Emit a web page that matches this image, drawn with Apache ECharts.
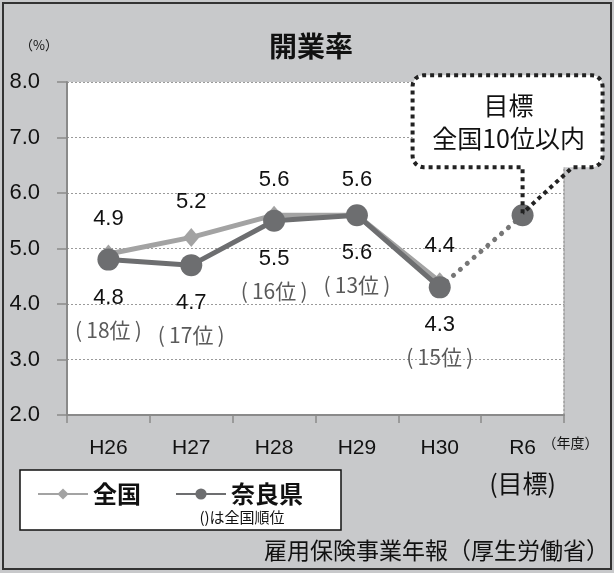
<!DOCTYPE html>
<html><head><meta charset="utf-8">
<script src="https://cdn.jsdelivr.net/npm/echarts@6/dist/echarts.min.js"></script>
<style>html,body{margin:0;padding:0;background:#c8c9cb}#c{width:614px;height:573px}</style>
</head><body><div id="c"></div>
<script>
var categories = ['H26', 'H27', 'H28', 'H29', 'H30', 'R6'];
var targetNote = '(目標)';
var nationalValues = [4.9, 5.2, 5.6, 5.6, 4.4, null];
var naraValues = [4.8, 4.7, 5.5, 5.6, 4.3, null];
var naraRanks = [18, 17, 16, 13, 15];
var targetValues = [null, null, null, null, 4.3, 5.6];
var yTicks = [2, 3, 4, 5, 6, 7, 8];

var NUM = "'Liberation Sans', Arial, sans-serif";
var JP = "'Noto Sans CJK JP', sans-serif";

var chart = echarts.init(document.getElementById('c'));
chart.setOption({
  animation: false,
  backgroundColor: '#c8c9cb',
  grid: { left: 67, right: 50, top: 82, bottom: 158, show: true, backgroundColor: '#ffffff', borderWidth: 0 },
  legend: {
    data: ['全国', '奈良県'],
    left: 20, top: 470,
    backgroundColor: '#ffffff', borderColor: '#111', borderWidth: 1.5,
    padding: [12, 38, 24, 17],
    itemGap: 34, itemWidth: 50, itemHeight: 14,
    textStyle: { fontFamily: JP, fontSize: 24, fontWeight: 'bold', color: '#111' }
  },
  xAxis: {
    type: 'category', data: categories, boundaryGap: true,
    axisLine: { lineStyle: { color: '#8a8a8a', width: 2 } },
    axisTick: { show: true, length: 8, alignWithLabel: false, lineStyle: { color: '#8a8a8a', width: 1.5 } },
    axisLabel: {
      margin: 16, interval: 0,
      formatter: function (v) { return v === 'R6' ? '{a|' + v + '}\n{b|' + targetNote + '}' : '{a|' + v + '}'; },
      rich: {
        a: { fontFamily: NUM, fontSize: 21, color: '#111', lineHeight: 35 },
        b: { fontFamily: JP, fontSize: 25, color: '#111', lineHeight: 35 }
      }
    }
  },
  yAxis: [{
    type: 'value', min: yTicks[0], max: yTicks[yTicks.length - 1], interval: 1,
    axisLine: { show: true, lineStyle: { color: '#8a8a8a', width: 2 } },
    axisTick: { show: true, length: 10, lineStyle: { color: '#8a8a8a', width: 1.5 } },
    axisLabel: { margin: 27, fontFamily: NUM, fontSize: 22, color: '#111', formatter: function (v) { return v.toFixed(1); } },
    splitLine: { show: true, lineStyle: { color: '#9a9a9a', width: 1, type: [2, 2] } }
  }, {
    type: 'value', min: yTicks[0], max: yTicks[yTicks.length - 1], interval: 1, position: 'right',
    axisLine: { show: true, lineStyle: { color: '#9a9a9a', width: 1.5, type: [2, 2] } },
    axisTick: { show: false }, axisLabel: { show: false }, splitLine: { show: false }
  }],
  series: [
    {
      name: 'target', type: 'line', data: targetValues.map(function (v, i) { return i === 4 ? { value: v, symbol: 'none' } : v; }),
      z: 1, symbol: 'circle', symbolSize: 22, itemStyle: { color: '#6d6e70' },
      lineStyle: { color: '#767676', width: 5, type: [0.1, 9], cap: 'round' }
    },
    {
      name: '全国', type: 'line', data: nationalValues, z: 2,
      symbol: 'diamond', symbolSize: [16, 19], itemStyle: { color: '#a3a3a3' },
      lineStyle: { color: '#a3a3a3', width: 5 },
      label: { show: true, position: 'top', distance: 15, fontFamily: NUM, fontSize: 22, color: '#111',
        formatter: function (p) { return p.value.toFixed(1); } }
    },
    {
      name: '奈良県', type: 'line', data: naraValues, z: 3,
      symbol: 'circle', symbolSize: 22, itemStyle: { color: '#6d6e70' },
      lineStyle: { color: '#6d6e70', width: 5 },
      label: { show: true, position: 'bottom', distance: 12,
        formatter: function (p) { return '{v|' + p.value.toFixed(1) + '}\n{r|(\u2009' + naraRanks[p.dataIndex] + '位\u2009)}'; },
        rich: {
          v: { fontFamily: NUM, fontSize: 22, color: '#111', lineHeight: 30, align: 'center' },
          r: { fontFamily: JP, fontSize: 21, color: '#5a5a5a', lineHeight: 34, align: 'center' }
        }
      }
    }
  ]
});

var pt = chart.convertToPixel({ gridIndex: 0 }, ['R6', targetValues[5]]);
var px = pt[0], py = pt[1];
var l = px - 110, rt = px + 80, t = py - 140, b = py - 48, r = 11;
function arc(cx, cy, a0, a1, pts) {
  for (var k = 0; k <= 6; k++) { var a = (a0 + (a1 - a0) * k / 6) * Math.PI / 180; pts.push([cx + r * Math.cos(a), cy + r * Math.sin(a)]); }
}
var pts = [[px, py - 2], [px, b], [l + r, b]];
arc(l + r, b - r, 90, 180, pts);
pts.push([l, t + r]);
arc(l + r, t + r, 180, 270, pts);
pts.push([rt - r, t]);
arc(rt - r, t + r, 270, 360, pts);
pts.push([rt, b - r]);
arc(rt - r, b - r, 0, 90, pts);
pts.push([px + 50, b], [px, py - 2]);

var lab = chart.convertToPixel({ gridIndex: 0 }, ['R6', yTicks[0]]);

chart.setOption({
  graphic: [
    { type: 'rect', z: 100, shape: { x: 3, y: 3, width: 608, height: 566 }, style: { fill: 'none', stroke: '#333', lineWidth: 2 } },
    { type: 'text', z: 100, x: 311, y: 46, style: { text: '開業率', fontFamily: JP, fontSize: 28, fontWeight: 'bold', fill: '#111', align: 'center', verticalAlign: 'middle' } },
    { type: 'text', z: 100, x: 39, y: 45, style: { text: '（%）', fontFamily: JP, fontSize: 13, fill: '#111', align: 'center', verticalAlign: 'middle' } },
    { type: 'rect', z: 100, shape: { x: l, y: t, width: rt - l, height: b - t, r: r }, style: { fill: '#fff', stroke: 'none' } },
    { type: 'polyline', z: 101, shape: { points: pts }, style: { fill: 'none', stroke: '#222', lineWidth: 4, lineDash: [4, 4] } },
    { type: 'text', z: 102, x: l + 96, y: t + 30, style: { text: '目標', fontFamily: JP, fontSize: 25, fill: '#111', align: 'center', verticalAlign: 'middle' } },
    { type: 'text', z: 102, x: l + 96, y: t + 63, style: { text: '全国10位以内', fontFamily: JP, fontSize: 25, fill: '#111', align: 'center', verticalAlign: 'middle' } },
    { type: 'text', z: 100, x: lab[0] + 20, y: lab[1] + 28, style: { text: '（年度）', fontFamily: JP, fontSize: 14, fill: '#111', align: 'left', verticalAlign: 'middle' } },
    { type: 'text', z: 100, x: 242, y: 517, style: { text: '()は全国順位', fontFamily: JP, fontSize: 15, fill: '#111', align: 'center', verticalAlign: 'middle' } },
    { type: 'text', z: 100, x: 609, y: 550, style: { text: '雇用保険事業年報（厚生労働省）', fontFamily: JP, fontSize: 23, fill: '#111', align: 'right', verticalAlign: 'middle' } }
  ]
});
</script></body></html>
